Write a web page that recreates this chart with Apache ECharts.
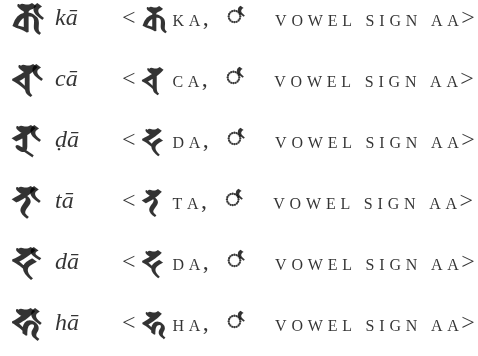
<!DOCTYPE html>
<html><head><meta charset="utf-8">
<script src="https://cdn.jsdelivr.net/npm/echarts@6/dist/echarts.min.js"></script>
<style>html,body{margin:0;padding:0;background:#fff}#c{width:478px;height:356px}</style>
</head><body><div id="c"></div>
<script>
// Siddham: consonant + vowel sign AA forms
const rowIndex = [0, 1, 2, 3, 4, 5];
const transliterations = ['kā', 'cā', 'ḍā', 'tā', 'dā', 'hā'];
const letterNames = ['KA', 'CA', 'DA', 'TA', 'DA', 'HA'];
const baseLetters = ['\u{1158E}', '\u{11593}', '\u{1159F}', '\u{1159D}', '\u{1159F}', '\u{115AE}'];
const ligatureBases = ['\u{1158E}', '\u{11593}', '\u{1159A}', '\u{1159D}', '\u{1159F}', '\u{115AE}'];
const vowelSign = '\u{115AF}';
const vowelSignName = 'VOWEL SIGN AA';
const dottedCircle = '\u25CC';

function smallCaps(s) {
  return s.split('').map(c => c === ' ' ? '{sp| }' : '{sc|' + c + '}').join('');
}

const chart = echarts.init(document.getElementById('c'), null, {renderer: 'canvas'});
const serif = 'Liberation Serif';
const sidd = '"Noto Sans Siddham", "Liberation Serif"';
chart.setOption({
  backgroundColor: '#ffffff',
  animation: false,
  grid: {left: 12, right: 12, top: 19, bottom: 32},
  xAxis: {type: 'value', min: 0, max: 1, show: false},
  yAxis: {type: 'category', inverse: true, boundaryGap: false, show: false,
          data: rowIndex.map(String)},
  series: [{
    type: 'scatter',
    symbolSize: 0,
    data: rowIndex.map(i => [0, i]),
    label: {
      show: true,
      position: 'right',
      distance: 0,
      color: '#000',
      fontFamily: serif,
      formatter: p => {
        const i = p.dataIndex;
        return '{g|' + ligatureBases[i] + vowelSign + '}' +
               '{t|' + transliterations[i] + '}' +
               '{lt|<}' +
               '{b|' + baseLetters[i] + '}' +
               smallCaps(letterNames[i]) +
               '{cm|,}{gap| }' +
               '{dc|' + dottedCircle + vowelSign + '}' +
               '{gap2| }' +
               smallCaps(vowelSignName) +
               '{gt|>}';
      },
      rich: {
        g: {fontSize: 40, fontWeight: 'bold', width: 43, lineHeight: 34, padding: [24, 0, 0, 0], color: '#000', fontFamily: sidd},
        t: {fontSize: 24, width: 67, lineHeight: 34, fontStyle: 'italic', color: '#000', fontFamily: serif},
        lt: {fontSize: 24, width: 20, lineHeight: 34, color: '#000', fontFamily: serif},
        b: {fontSize: 34, fontWeight: 'bold', width: 28, lineHeight: 34, padding: [23, 0, 0, 0], color: '#000', fontFamily: sidd},
        sc: {fontSize: 16, lineHeight: 34, padding: [5.4, 2.4, 0, 2.4], color: '#000', fontFamily: serif},
        sp: {fontSize: 16, lineHeight: 34, padding: [5.4, 2.4, 0, 2.4], color: '#000', fontFamily: serif},
        cm: {fontSize: 24, lineHeight: 34, color: '#000', fontFamily: serif},
        gap: {fontSize: 16, width: 18, lineHeight: 34, color: '#000', fontFamily: serif},
        dc: {fontSize: 26, fontWeight: 'bold', lineHeight: 34, padding: [10, 0, 0, 0], color: '#000', fontFamily: sidd},
        gap2: {fontSize: 16, width: 28, lineHeight: 34, color: '#000', fontFamily: serif},
        gt: {fontSize: 24, lineHeight: 34, color: '#000', fontFamily: serif}
      }
    }
  }]
});
</script></body></html>
